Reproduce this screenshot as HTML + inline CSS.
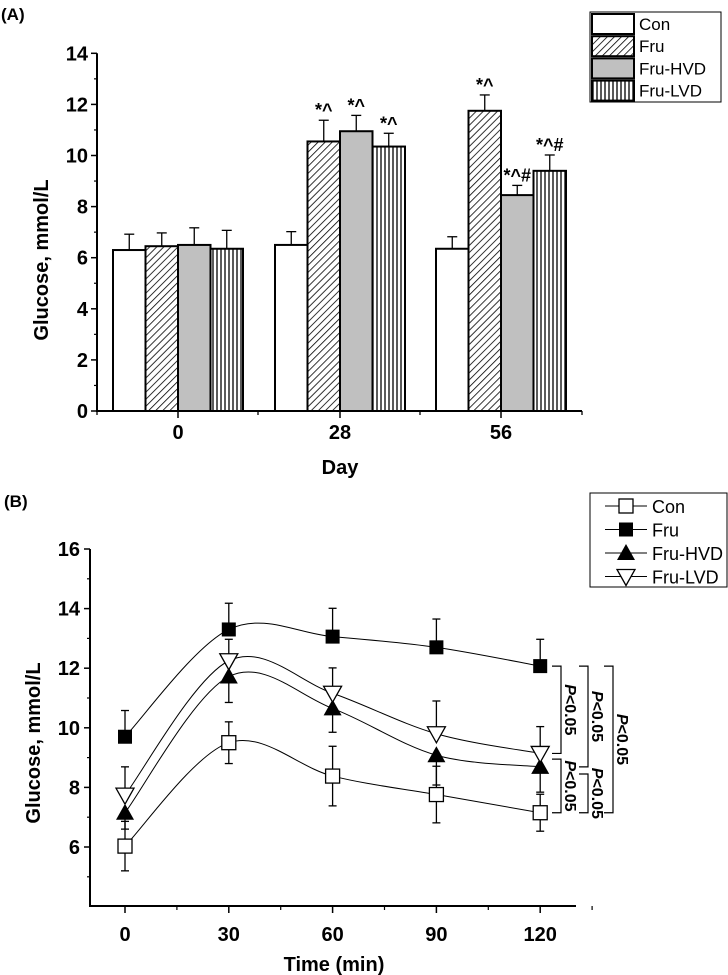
<!DOCTYPE html>
<html><head><meta charset="utf-8"><style>
body{margin:0;background:#fff}
svg{display:block;font-family:"Liberation Sans",Arial,sans-serif}
</style></head><body>
<svg id="c" width="728" height="975" viewBox="0 0 728 975">
<defs>
<pattern id="hatch" patternUnits="userSpaceOnUse" width="5" height="5" patternTransform="rotate(45)"><rect width="5" height="5" fill="#fff"/><line x1="0" y1="0" x2="0" y2="5" stroke="#000" stroke-width="1.6"/></pattern>
<pattern id="vert" patternUnits="userSpaceOnUse" width="4" height="4"><rect width="4" height="4" fill="#fff"/><line x1="1" y1="0" x2="1" y2="4" stroke="#000" stroke-width="1.3"/></pattern>
</defs>
<g id="pa"></g>
<g id="pb"></g>
</svg>
<script>
// ---- Panel A data ----
const daysA = ["0","28","56"];
const seriesA = ["Con","Fru","Fru-HVD","Fru-LVD"];
const conA = [6.3,6.5,6.35];
const fruA = [6.45,10.55,11.75];
const hvdA = [6.5,10.95,8.45];
const lvdA = [6.35,10.35,9.4];
const conAErr = [0.62,0.52,0.47];
const fruAErr = [0.52,0.83,0.62];
const hvdAErr = [0.67,0.62,0.38];
const lvdAErr = [0.72,0.52,0.62];
const annotA = [["","","",""],["","*^","*^","*^"],["","*^","*^#","*^#"]];
const yTicksA = [0,2,4,6,8,10,12,14];
// ---- Panel B data ----
const timesB = [0,30,60,90,120];
const conB = [6.03,9.5,8.38,7.76,7.15];
const fruB = [9.7,13.3,13.06,12.7,12.07];
const hvdB = [7.15,11.72,10.65,9.08,8.69];
const lvdB = [7.74,12.25,11.16,9.8,9.14];
const conBErr = [0.83,0.7,1.0,0.95,0.62];
const fruBErr = [0.88,0.88,0.95,0.95,0.9];
const hvdBErr = [0.55,0.87,0.8,1.0,0.85];
const lvdBErr = [0.95,0.72,0.85,1.1,0.9];
const yTicksB = [6,8,10,12,14,16];
const xTicksB = [0,30,60,90,120];

const NS="http://www.w3.org/2000/svg";
function mk(p,tag,at,txt){const e=document.createElementNS(NS,tag);for(const k in at)e.setAttribute(k,at[k]);if(txt!==undefined)e.textContent=txt;p.appendChild(e);return e;}

// ===== Panel A =====
const A=document.getElementById('pa');
const ayA=v=>411-v*25.55;
const catX=[178,340,501];
const bw=32.5;
const fills=["#fff","url(#hatch)","#c0c0c0","url(#vert)"];
const valsA=[conA,fruA,hvdA,lvdA], errsA=[conAErr,fruAErr,hvdAErr,lvdAErr];
let t=mk(A,'text',{x:1,y:20,'font-size':17,'font-weight':'bold'},'(A)');


for(let c=0;c<daysA.length;c++){
  for(let s=0;s<4;s++){
    const x=catX[c]-2*bw+s*bw, v=valsA[s][c], e=errsA[s][c];
    const ln=mk(A,'line',{x1:x+bw/2,x2:x+bw/2,y1:ayA(v),y2:ayA(v+e),stroke:'#000','stroke-width':1.3});
    
    
    mk(A,'line',{x1:x+bw/2-5,x2:x+bw/2+5,y1:ayA(v+e),y2:ayA(v+e),stroke:'#000','stroke-width':1.3});
    const r=mk(A,'rect',{x:x,y:ayA(v),width:bw,height:ayA(0)-ayA(v),fill:fills[s],stroke:'#000','stroke-width':2});
    
    
    if(annotA[c][s]){
      const a=mk(A,'text',{x:x+bw/2,y:ayA(v+e)-4,'font-size':18,'font-weight':'bold','text-anchor':'middle'},annotA[c][s]);
      
      
    }
  }
}
mk(A,'line',{x1:97,x2:97,y1:ayA(14),y2:ayA(0)+1,stroke:'#000','stroke-width':2});
mk(A,'line',{x1:96,x2:582,y1:ayA(0),y2:ayA(0),stroke:'#000','stroke-width':2});
for(const v of yTicksA){
  mk(A,'line',{x1:91,x2:97,y1:ayA(v),y2:ayA(v),stroke:'#000','stroke-width':1.5});
  if(v<14) mk(A,'line',{x1:94,x2:97,y1:ayA(v+1),y2:ayA(v+1),stroke:'#000','stroke-width':1.2});
  const tl=mk(A,'text',{x:88,y:ayA(v)+7,'font-size':20,'font-weight':'bold','text-anchor':'end'},String(v));
  
  
}
[97,258,420,582].forEach(x=>mk(A,'line',{x1:x,x2:x,y1:ayA(0),y2:ayA(0)+4,stroke:'#000','stroke-width':1.3}));
daysA.forEach((d,i)=>{
  mk(A,'line',{x1:catX[i],x2:catX[i],y1:ayA(0),y2:ayA(0)+7,stroke:'#000','stroke-width':1.5});
  const tl=mk(A,'text',{x:catX[i],y:439,'font-size':20,'font-weight':'bold','text-anchor':'middle'},d);
  
  
});
t=mk(A,'text',{x:340,y:474,'font-size':20,'font-weight':'bold','text-anchor':'middle'},'Day');


t=mk(A,'text',{x:0,y:0,'font-size':20,'font-weight':'bold','text-anchor':'middle',transform:'translate(48,260) rotate(-90)'},'Glucose, mmol/L');


// legend A
const lgA=mk(A,'g',{});


mk(lgA,'rect',{x:590,y:12,width:131,height:90,fill:'#fff',stroke:'#000','stroke-width':1});
seriesA.forEach((s,i)=>{
  const y=13+i*22.2;
  const sw=mk(lgA,'rect',{x:592,y:y+1,width:42,height:20,fill:fills[i],stroke:'#000','stroke-width':2});
  
  
  const lt=mk(lgA,'text',{x:639,y:y+17,'font-size':17},s);
  
  
});

// ===== Panel B =====
const B=document.getElementById('pb');
const bx=v=>125+v*3.46;
const by=v=>847-(v-6)*29.8;
t=mk(B,'text',{x:4,y:507,'font-size':17,'font-weight':'bold'},'(B)');


mk(B,'line',{x1:90,x2:90,y1:by(16),y2:907,stroke:'#000','stroke-width':2});
mk(B,'line',{x1:89,x2:576,y1:906,y2:906,stroke:'#000','stroke-width':2});
for(const v of yTicksB){
  mk(B,'line',{x1:84,x2:90,y1:by(v),y2:by(v),stroke:'#000','stroke-width':1.5});
  mk(B,'line',{x1:87,x2:90,y1:by(v-1),y2:by(v-1),stroke:'#000','stroke-width':1.2});
  const tl=mk(B,'text',{x:80,y:by(v)+7,'font-size':20,'font-weight':'bold','text-anchor':'end'},String(v));
  
  
}
for(const v of xTicksB){
  mk(B,'line',{x1:bx(v),x2:bx(v),y1:906,y2:913,stroke:'#000','stroke-width':1.5});
  mk(B,'line',{x1:bx(v+15),x2:bx(v+15),y1:906,y2:910,stroke:'#000','stroke-width':1.2});
  const tl=mk(B,'text',{x:bx(v),y:941,'font-size':20,'font-weight':'bold','text-anchor':'middle'},String(v));
  
  
}
t=mk(B,'text',{x:334,y:971,'font-size':20,'font-weight':'bold','text-anchor':'middle'},'Time (min)');


t=mk(B,'text',{x:0,y:0,'font-size':20,'font-weight':'bold','text-anchor':'middle',transform:'translate(40,743) rotate(-90)'},'Glucose, mmol/L');



function spline(vals){
  const p=timesB.map((x,i)=>[bx(x),by(vals[i])]);
  let d='M'+p[0][0]+','+p[0][1];
  for(let i=0;i<p.length-1;i++){
    const p0=p[i-1]||p[i],p1=p[i],p2=p[i+1],p3=p[i+2]||p2;
    const k=1/6;
    d+=' C'+(p1[0]+(p2[0]-p0[0])*k)+','+(p1[1]+(p2[1]-p0[1])*k)+' '+(p2[0]-(p3[0]-p1[0])*k)+','+(p2[1]-(p3[1]-p1[1])*k)+' '+p2[0]+','+p2[1];
  }
  return d;
}
function marker(g,type,x,y){
  let m;
  if(type==='osq') m=mk(g,'rect',{x:x-7,y:y-7,width:14,height:14,fill:'#fff',stroke:'#000','stroke-width':1.3});
  if(type==='fsq') m=mk(g,'rect',{x:x-7,y:y-7,width:14,height:14,fill:'#000'});
  if(type==='ftri') m=mk(g,'polygon',{points:(x-9)+','+(y+7)+' '+(x+9)+','+(y+7)+' '+x+','+(y-9),fill:'#000'});
  if(type==='otri') m=mk(g,'polygon',{points:(x-9)+','+(y-7)+' '+(x+9)+','+(y-7)+' '+x+','+(y+9),fill:'#fff',stroke:'#000','stroke-width':1.3});
  return m;
}
const sB=[["Con",conB,conBErr,'osq',-1],["Fru",fruB,fruBErr,'fsq',1],["Fru-HVD",hvdB,hvdBErr,'ftri',-1],["Fru-LVD",lvdB,lvdBErr,'otri',1]];
sB.forEach(([n,v,e,mt,dir])=>{
  const g=mk(B,'g',{});
  
  
  const l=mk(g,'path',{d:spline(v),fill:'none',stroke:'#000','stroke-width':1});
  
  
  timesB.forEach((tm,i)=>{
    const x=bx(tm),y1=by(v[i]),y2=by(v[i]+dir*e[i]);
    const eb=mk(g,'line',{x1:x,x2:x,y1:y1,y2:y2,stroke:'#000','stroke-width':1.3});
    
    
    mk(g,'line',{x1:x-4,x2:x+4,y1:y2,y2:y2,stroke:'#000','stroke-width':1.3});
    if(n==='Con'){const y3=by(v[i]+e[i]);mk(g,'line',{x1:x,x2:x,y1:y1,y2:y3,stroke:'#000','stroke-width':1.3});mk(g,'line',{x1:x-4,x2:x+4,y1:y3,y2:y3,stroke:'#000','stroke-width':1.3});}
  });
  timesB.forEach((tm,i)=>{
    const m=marker(g,mt,bx(tm),by(v[i]));
    
    
  });
});
// legend B
const lgB=mk(B,'g',{});


mk(lgB,'rect',{x:590,y:493,width:137,height:94,fill:'#fff',stroke:'#000','stroke-width':1});
sB.forEach(([n,,,mt],i)=>{
  const y=506+i*23.5;
  mk(lgB,'line',{x1:605,x2:647,y1:y,y2:y,stroke:'#000','stroke-width':1});
  const m=marker(lgB,mt,626,y);
  
  
  const lt=mk(lgB,'text',{x:652,y:y+7,'font-size':18},n);
  
  
});
// significance brackets
const brk=[[561,12.07,9.14],[588,12.07,8.69],[613,12.07,7.15],[561,8.95,7.15],[588,8.45,7.15]];
brk.forEach(([x,a,b])=>{
  const g=mk(B,'g',{});
  
  
  const y1=by(a),y2=by(b);
  mk(g,'path',{d:'M'+(x-9)+','+y1+' H'+x+' V'+y2+' H'+(x-9),fill:'none',stroke:'#000','stroke-width':1.2});
  const tx=mk(g,'text',{x:0,y:0,'font-size':16,'font-weight':'bold','text-anchor':'middle',transform:'translate('+(x+4)+','+((y1+y2)/2)+') rotate(90)'});
  mk(tx,'tspan',{'font-style':'italic'},'P');
  mk(tx,'tspan',{},'<0.05');
});
</script>
</body></html>
